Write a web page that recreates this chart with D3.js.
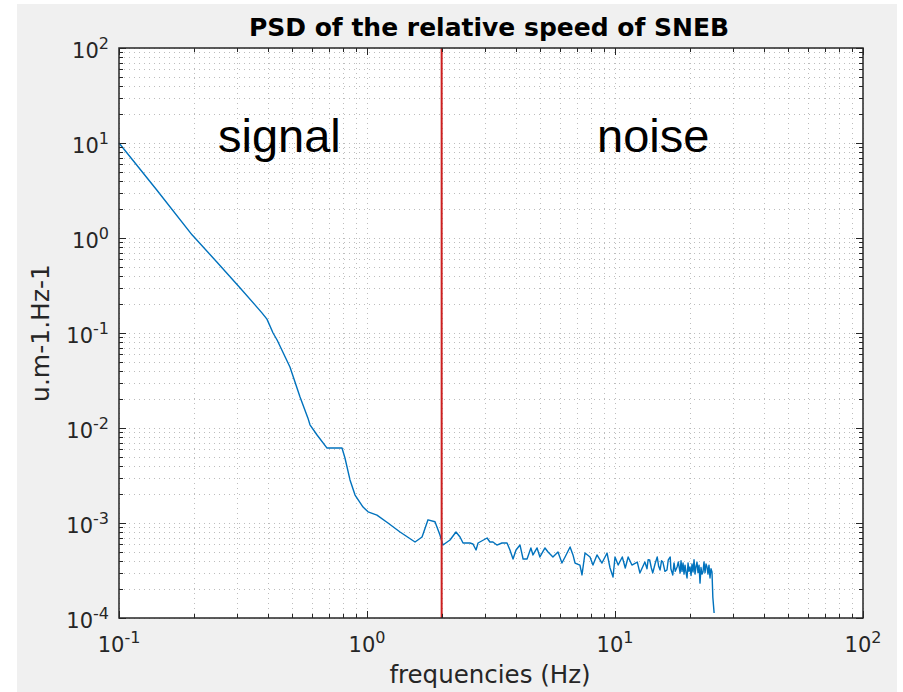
<!DOCTYPE html>
<html>
<head>
<meta charset="utf-8">
<script src="https://cdn.jsdelivr.net/npm/d3@7"></script>
<style>
  body { margin: 0; background: #fff; }
  text { font-family: "DejaVu Sans", sans-serif; fill: #262626; }
</style>
</head>
<body>
<script>

// PSD (Hz, u.m-1.Hz-1)
var freq = [0.1, 0.142, 0.197, 0.248, 0.308, 0.377, 0.395, 0.418, 0.434, 0.489,
    0.537, 0.578, 0.589, 0.629, 0.69, 0.793, 0.815, 0.854, 0.895, 0.964,
    1.01, 1.097, 1.215, 1.359, 1.562, 1.667, 1.762, 1.88, 1.969, 2.024,
    2.161, 2.285, 2.372, 2.439, 2.602, 2.675, 2.752, 2.804,
    3.05, 3.13, 3.22, 3.34, 3.5, 3.67, 3.77, 3.88, 3.99,
    4.14, 4.26, 4.42, 4.58, 4.67, 4.85, 4.98,
    5.22, 5.37, 5.62, 5.89,
    6.11, 6.29, 6.59, 6.77, 6.9,
    7.22, 7.36, 7.57, 7.93,
    8.15, 8.46, 8.86,
    9.29, 9.55, 9.82,
    10.0, 10.3, 10.7,
    11.0, 11.3, 11.7,
    12.3, 12.6,
    13.2, 13.46, 13.6, 13.8,
    14.0, 14.2, 14.5, 14.8,
    15.0, 15.2, 15.4, 15.6, 15.9,
    16.2, 16.4, 16.7, 16.8,
    17.1, 17.3, 17.5, 17.8,
    18.0, 18.3, 18.46, 18.63, 18.81, 18.98,
    19.16, 19.34, 19.52, 19.7, 19.88,
    20.07, 20.26, 20.44, 20.64, 20.83,
    21.02, 21.22, 21.41, 21.61, 21.82,
    22.02, 22.22, 22.43, 22.64, 22.85,
    23.07, 23.28, 23.5, 23.71, 23.93,
    24.16, 24.38, 24.61, 24.8,
    25.1];

var psd = [10, 3.2, 1.08, 0.559, 0.298, 0.163, 0.14, 0.1, 0.0844, 0.0439,
    0.0212, 0.0127, 0.0108, 0.00844, 0.00615, 0.00615, 0.00483, 0.00284, 0.00197, 0.00147,
    0.00131, 0.00121, 0.001, 0.000804, 0.000631, 0.000713, 0.00108, 0.00103, 0.000748, 0.000586,
    0.000662, 0.000804, 0.000713, 0.000616, 0.000616, 0.000601, 0.00052, 0.000616,
    0.000695, 0.000631, 0.000631, 0.000586, 0.000616, 0.000616, 0.00052, 0.000418, 0.00052,
    0.000586, 0.000418, 0.000418, 0.000546, 0.000461, 0.000546, 0.000439,
    0.000546, 0.000495, 0.000439, 0.000495,
    0.000379, 0.000439, 0.000559, 0.000461, 0.000379,
    0.000361, 0.000284, 0.000483, 0.000439,
    0.000361, 0.000461, 0.000379,
    0.000483, 0.000336, 0.00027,
    0.000439, 0.000361, 0.000439,
    0.000336, 0.000439, 0.000361,
    0.000388, 0.000298,
    0.000388, 0.00033, 0.00041, 0.000408,
    0.00034, 0.000298, 0.00037, 0.000439,
    0.00035, 0.00032, 0.0004, 0.000388, 0.00031,
    0.00032, 0.00041, 0.000439, 0.00033,
    0.000284, 0.00038, 0.00031, 0.000344,
    0.00039, 0.000298, 0.0004, 0.00031, 0.000379, 0.00029,
    0.00036, 0.0003, 0.000264, 0.00038, 0.00031,
    0.000344, 0.00028, 0.00037, 0.000305, 0.00041,
    0.00029, 0.00035, 0.000388, 0.0003, 0.00036,
    0.000233, 0.00034, 0.00029, 0.000305, 0.00039,
    0.0003, 0.00037, 0.000344, 0.00029, 0.00036,
    0.000264, 0.00033, 0.000305, 0.000166,
    0.000113];

var cutoff = 2;   // Hz, signal / noise boundary
var xExp = [-1, 0, 1, 2];
var yExp = [-4, -3, -2, -1, 0, 1, 2];

var W = 903, H = 692;
var margin = { left: 119, top: 48, right: 40, bottom: 74 };
var pw = W - margin.left - margin.right, ph = H - margin.top - margin.bottom;

var svg = d3.select("body").append("svg").attr("width", W).attr("height", H);

// figure background
svg.append("rect").attr("x", 17).attr("y", 4).attr("width", 880).attr("height", 688).attr("fill", "#f0f0f0");

var x = d3.scaleLog().domain([0.1, 100]).range([0, pw]);
var y = d3.scaleLog().domain([1e-4, 100]).range([ph, 0]);

var g = svg.append("g").attr("transform", "translate(" + margin.left + "," + margin.top + ")");
g.append("rect").attr("width", pw).attr("height", ph).attr("fill", "#fff");

// minor + major values
function logTicks(exps) {
    var major = exps.map(function (e) { return Math.pow(10, e); });
    var minor = [];
    for (var i = 0; i < exps.length - 1; i++) {
        for (var k = 2; k <= 9; k++) minor.push(k * Math.pow(10, exps[i]));
    }
    return { major: major, minor: minor };
}
var xt = logTicks(xExp), yt = logTicks(yExp);
var xAll = xt.major.concat(xt.minor), yAll = yt.major.concat(yt.minor);

// dotted grid
var grid = g.append("g").attr("stroke", "#bdbdbd").attr("stroke-width", 1).attr("stroke-dasharray", "1,4");
grid.selectAll(".gx").data(xAll).enter().append("line")
    .attr("x1", function (d) { return Math.round(x(d)) + 0.5; })
    .attr("x2", function (d) { return Math.round(x(d)) + 0.5; })
    .attr("y1", 0).attr("y2", ph);
grid.selectAll(".gy").data(yAll).enter().append("line")
    .attr("y1", function (d) { return Math.round(y(d)) + 0.5; })
    .attr("y2", function (d) { return Math.round(y(d)) + 0.5; })
    .attr("x1", 0).attr("x2", pw);

// PSD curve
var pts = freq.map(function (f, i) { return [f, psd[i]]; });
var line = d3.line().x(function (d) { return x(d[0]); }).y(function (d) { return y(d[1]); });
g.append("path").datum(pts).attr("d", line)
    .attr("fill", "none").attr("stroke", "#0072bd").attr("stroke-width", 1.4).attr("stroke-linejoin", "round");

// cutoff line
g.append("line").attr("x1", x(cutoff)).attr("x2", x(cutoff)).attr("y1", 0).attr("y2", ph)
    .attr("stroke", "#cc1f1f").attr("stroke-width", 2);

// annotations
g.append("text").attr("x", 99).attr("y", 104).text("signal")
    .style("font-family", "'Liberation Sans', Arial, sans-serif").style("font-size", "47px").style("fill", "#000");
g.append("text").attr("x", 478).attr("y", 104).text("noise")
    .style("font-family", "'Liberation Sans', Arial, sans-serif").style("font-size", "47px").style("fill", "#000");

// box + inward ticks on all sides
var ax = g.append("g").attr("stroke", "#262626").attr("fill", "none");
ax.append("rect").attr("x", 0).attr("y", 0).attr("width", pw).attr("height", ph).attr("stroke-width", 1.5);
function tickLen(d, major) { return major.indexOf(d) >= 0 ? 7 : 4; }
ax.selectAll(".tx").data(xAll).enter().append("path")
    .attr("d", function (d) {
        var px = Math.round(x(d)) + 0.5, L = tickLen(d, xt.major);
        return "M" + px + "," + ph + "v" + (-L) + "M" + px + ",0v" + L;
    });
ax.selectAll(".ty").data(yAll).enter().append("path")
    .attr("d", function (d) {
        var py = Math.round(y(d)) + 0.5, L = tickLen(d, yt.major);
        return "M0," + py + "h" + L + "M" + pw + "," + py + "h" + (-L);
    });

// tick labels, 10^n
function powLabel(sel) {
    sel.append("tspan").text("10");
    sel.append("tspan").attr("dy", -9).style("font-size", "16px").text(function (d) { return d; });
}
g.selectAll(".xl").data(xExp).enter().append("text")
    .attr("x", function (d) { return x(Math.pow(10, d)); })
    .attr("y", ph + 34).attr("text-anchor", "middle").style("font-size", "21px")
    .call(powLabel);
g.selectAll(".yl").data(yExp).enter().append("text")
    .attr("x", -10)
    .attr("y", function (d) { return y(Math.pow(10, d)) + 10; })
    .attr("text-anchor", "end").style("font-size", "21px")
    .call(powLabel);

// titles
svg.append("text").attr("x", 489).attr("y", 36).attr("text-anchor", "middle")
    .style("font-size", "25px").style("font-weight", "bold").style("fill", "#000")
    .text("PSD of the relative speed of SNEB");
svg.append("text").attr("x", 490).attr("y", 683).attr("text-anchor", "middle")
    .style("font-size", "24.5px").text("frequencies (Hz)");
svg.append("text").attr("transform", "translate(49,333) rotate(-90)").attr("text-anchor", "middle")
    .style("font-size", "25px").text("u.m-1.Hz-1");

</script>
</body>
</html>
